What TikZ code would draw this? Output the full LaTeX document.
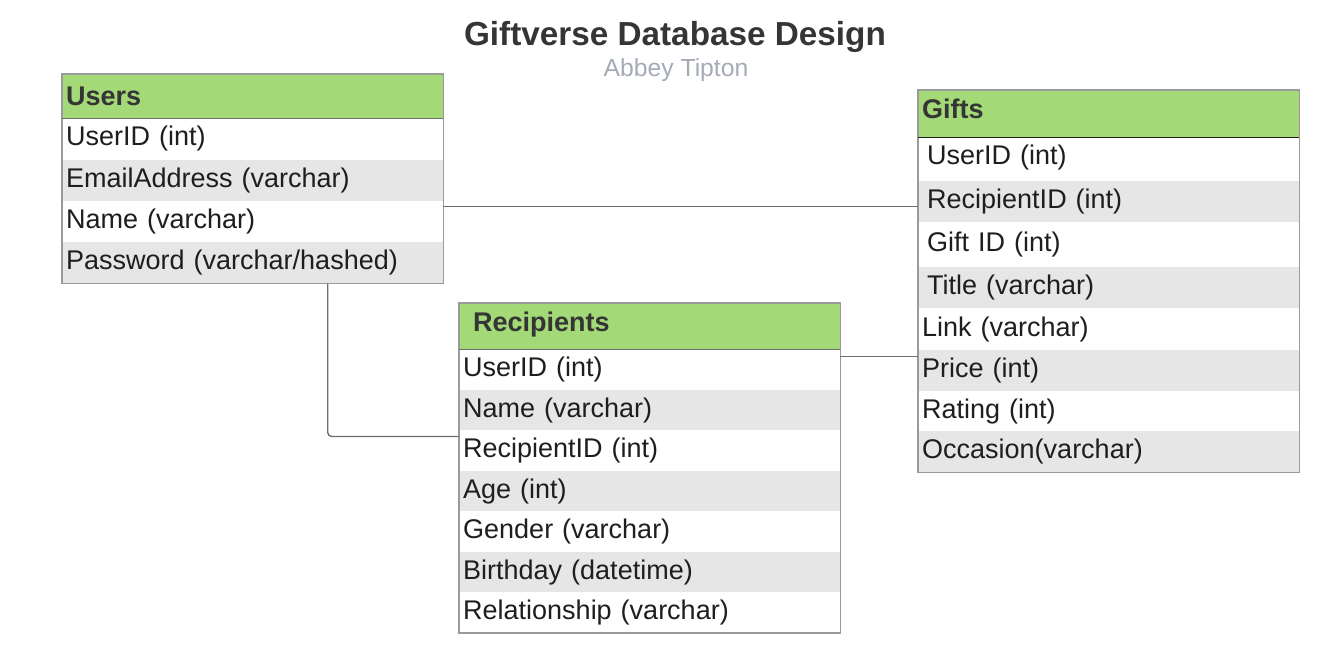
\documentclass[tikz,border=0pt]{standalone}
\usepackage{fontspec}
\setmainfont{Liberation Sans}
\usetikzlibrary{positioning}
\definecolor{hdrgreen}{HTML}{A3D977}
\definecolor{rowgray}{HTML}{E6E6E6}
\definecolor{edgegray}{HTML}{9A9A9A}
\definecolor{linkgray}{HTML}{6E6E6E}
\definecolor{inkdark}{HTML}{1E1E1E}
\definecolor{subgray}{HTML}{A4AAB6}
\newcommand{\rowfont}{\fontsize{27}{32}\selectfont}
\newcommand{\hdrfont}{\fontsize{27}{32}\selectfont\bfseries}
\begin{document}
\begin{tikzpicture}
[x=1pt,y=-1pt,
  rowdecorate/.style={shape=rectangle,anchor=north west,inner xsep=4pt,inner ysep=0pt,
    minimum width=381pt,text width=373pt,align=left,font=\rowfont,text=inkdark},
  hdrdecorate/.style={rowdecorate,fill=hdrgreen,font=\hdrfont,text=inkdark!90},
  boxdecorate/.style={draw=edgegray,line width=1.3pt},
  linedecorate/.style={-,draw=linkgray,line width=1.4pt}]
\useasboundingbox (0,0) rectangle (1344,650);
%% title
\node (title) at (675,46) [anchor=base,font=\fontsize{33.3}{39}\selectfont\bfseries,text=inkdark!90] {Giftverse Database Design};
\node (author) at (676,77) [anchor=base,font=\fontsize{24.7}{30}\selectfont,text=subgray] {Abbey Tipton};
%% users table
\node (users) at (62,74) [hdrdecorate,minimum height=44pt] {Users};
\foreach \rowname/\ytop/\rowtext/\shade in {uid/118/UserID (int)/white,
  uemail/160/EmailAddress (varchar)/rowgray, uname/201/Name (varchar)/white,
  upass/242/{Password (varchar/hashed)}/rowgray} {
  \node (\rowname) at (62,\ytop) [rowdecorate,fill=\shade,minimum height=41pt] {\rowtext};
}
\draw[boxdecorate] (users.north west) rectangle (upass.south east);
\draw[line width=1.3pt,draw=linkgray] (users.south west) -- (users.south east);
%% gifts table
\node (gifts) at (918,90) [hdrdecorate,minimum height=47pt] {\raisebox{5pt}[\height][\depth]{Gifts}};
\foreach \rowname/\ytop/\pad/\rowtext/\shade in {guid/137/5/UserID (int)/white,
  grid/181/5/RecipientID (int)/rowgray, ggid/224/5/Gift ID (int)/white,
  gtitle/267/5/Title (varchar)/rowgray, glink/309/0/Link (varchar)/white,
  gprice/350/0/Price (int)/rowgray, grating/391/0/Rating (int)/white,
  goccasion/431/0/Occasion(varchar)/rowgray} {
  \node (\rowname) at (918,\ytop) [rowdecorate,fill=\shade,minimum height=41pt] {\hspace*{\pad pt}\rowtext};
}
\draw[boxdecorate] (gifts.north west) rectangle (goccasion.south east);
\draw[line width=1.3pt,draw=inkdark] (gifts.south west) -- (gifts.south east);
%% recipients table
\node (recipients) at (459,303) [hdrdecorate,minimum height=46pt] {\hspace*{10pt}\raisebox{2pt}[\height][\depth]{Recipients}};
\foreach \rowname/\ytop/\rowtext/\shade in {ruid/349/UserID (int)/white,
  rname/390/Name (varchar)/rowgray, rrid/430/RecipientID (int)/white,
  rage/471/Age (int)/rowgray, rgender/511/Gender (varchar)/white,
  rbirthday/552/Birthday (datetime)/rowgray, rrelation/592/Relationship (varchar)/white} {
  \node (\rowname) at (459,\ytop) [rowdecorate,fill=\shade,minimum height=40.5pt] {\rowtext};
}
\draw[boxdecorate] (recipients.north west) rectangle (rrelation.south east);
\draw[line width=1.3pt,draw=linkgray] (recipients.south west) -- (recipients.south east);
%% relations
\coordinate (gridport) at ([yshift=-5pt]grid.west);
\coordinate (gpriceport) at ([yshift=14pt]gprice.west);
\coordinate (rridport) at ([yshift=14pt]rrid.west);
\draw[linedecorate] (uname.east |- gridport) -- (gridport);
\draw[linedecorate] (ruid.east |- gpriceport) -- (gpriceport);
\draw[linedecorate,rounded corners=4pt] ([xshift=75pt]upass.south) |- (rridport);
\end{tikzpicture}
\end{document}
